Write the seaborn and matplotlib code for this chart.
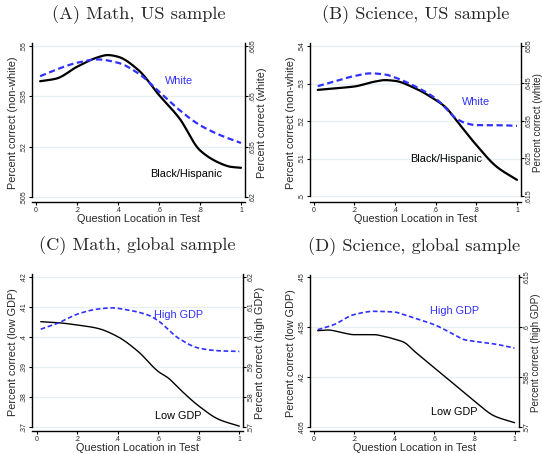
import numpy as np
import pandas as pd
import matplotlib
matplotlib.use("Agg")
import matplotlib.pyplot as plt
import seaborn as sns

# question location in test (x) and smoothed percent correct
x_a_black = [0.02, 0.1, 0.2, 0.3, 0.35, 0.4, 0.5, 0.6, 0.7, 0.8, 0.9, 0.95, 1.0]
y_a_black = [.5395, .5403, .5438, .5466, .5473, .5468, .5428, .5354, .5284, .5189, .5150, .5140, .5137]
x_a_white = [0.02, 0.1, 0.2, 0.3, 0.4, 0.5, 0.6, 0.7, 0.8, 0.9, 1.0]
y_a_white = [.6560, .6580, .6600, .6610, .6600, .6568, .6514, .6459, .6414, .6384, .6361]

x_b_black = [0.02, 0.1, 0.2, 0.3, 0.35, 0.4, 0.5, 0.6, 0.65, 0.7, 0.8, 0.9, 1.0]
y_b_black = [.5283, .5287, .5292, .5305, .5309, .5307, .5287, .5256, .5236, .5203, .5136, .5078, .5043]
x_b_white = [0.02, 0.1, 0.2, 0.28, 0.35, 0.4, 0.5, 0.6, 0.65, 0.7, 0.75, 0.8, 0.9, 1.0]
y_b_white = [.6443, .6455, .6470, .6477, .6474, .6466, .6442, .6410, .6384, .6357, .6344, .6339, .6339, .6337]

x_c_low = [0.02, 0.1, 0.2, 0.3, 0.4, 0.5, 0.6, 0.65, 0.7, 0.8, 0.9, 1.0]
y_c_low = [.4051, .4048, .4040, .4029, .4001, .3952, .3885, .3863, .3830, .3770, .3725, .3703]
x_c_high = [0.02, 0.1, 0.2, 0.3, 0.37, 0.45, 0.55, 0.6, 0.7, 0.8, 0.9, 1.0]
y_c_high = [.6026, .6045, .6076, .6093, .6097, .6090, .6073, .6054, .5996, .5963, .5954, .5952]

x_d_low = [0.02, 0.07, 0.15, 0.2, 0.3, 0.35, 0.4, 0.45, 0.5, 0.6, 0.7, 0.8, 0.9, 1.0]
y_d_low = [.4339, .4341, .4332, .4327, .4327, .4322, .4314, .4304, .4278, .4228, .4178, .4128, .4083, .4063]
x_d_high = [0.02, 0.1, 0.2, 0.3, 0.4, 0.45, 0.5, 0.6, 0.7, 0.75, 0.8, 0.9, 1.0]
y_d_high = [.5992, .6007, .6037, .6047, .6045, .6037, .6027, .6007, .5977, .5962, .5957, .5949, .5937]

x_ticks = [0, .2, .4, .6, .8, 1]
x_tick_labels = ["0", ".2", ".4", ".6", ".8", "1"]

titles = ["(A) Math, US sample", "(B) Science, US sample",
          "(C) Math, global sample", "(D) Science, global sample"]

BLUE = "#3030ff"
GRID = "#e6eff1"
LABEL_FS = 7.8

sns.set_theme(style="white")
plt.rcParams['font.family'] = ['Liberation Sans', 'DejaVu Sans']

fig = plt.figure(figsize=(5.42, 4.54), dpi=100)
W, H = 542.0, 454.0


def smooth(xs, ys, n=200):
    xs = np.asarray(xs); ys = np.asarray(ys)
    xx = np.linspace(xs[0], xs[-1], n)
    d = np.diff(ys) / np.diff(xs)
    m = np.zeros_like(ys)
    m[1:-1] = np.where(d[:-1] * d[1:] > 0, 2 / (1 / d[:-1] + 1 / d[1:]), 0)
    m[0], m[-1] = d[0], d[-1]
    idx = np.clip(np.searchsorted(xs, xx) - 1, 0, len(xs) - 2)
    h = xs[idx + 1] - xs[idx]
    t = (xx - xs[idx]) / h
    yy = ((2*t**3 - 3*t**2 + 1) * ys[idx] + (t**3 - 2*t**2 + t) * h * m[idx]
          + (-2*t**3 + 3*t**2) * ys[idx + 1] + (t**3 - t**2) * h * m[idx + 1])
    return xx, yy


def panel(box, x0px, x1px, ltop, lbot, ltickpx, lticks, lticklabels, rticks, rticklabels,
          xb, yb, xw, yw, lw_black, lw_blue, lab_l, lab_r, name_b, name_w,
          pos_b, pos_w, title, rlab_fs=LABEL_FS):
    left, top, right, bottom = box
    ax = fig.add_axes([left / W, 1 - bottom / H, (right - left) / W, (bottom - top) / H])
    sx = x1px - x0px
    ax.set_xlim(-(x0px - left) / sx, 1 + (right - x1px) / sx)
    tp, bp = ltickpx
    sy = (bp - tp) / (ltop - lbot)
    ylim = (lbot - (bottom - bp) / sy, ltop + (tp - top) / sy)
    ax.set_ylim(*ylim)
    ax2 = ax.twinx()
    off = rticks[0] - lticks[0]
    ax2.set_ylim(ylim[0] + off, ylim[1] + off)

    for t in lticks:
        ax.axhline(t, color=GRID, lw=0.9, zorder=0)

    bx, by = smooth(xb, yb)
    wx, wy = smooth(xw, yw)
    sns.lineplot(x=bx, y=by, ax=ax, color="black", lw=lw_black, zorder=3)
    sns.lineplot(x=wx, y=wy, ax=ax2, color=BLUE, lw=lw_blue, dashes=False,
                 linestyle=(0, (2.8, 1.6)), zorder=3)

    ax.text(pos_b[0], pos_b[1], name_b, color="black", fontsize=LABEL_FS, ha="center", va="center")
    ax.text(pos_w[0], pos_w[1], name_w, color=BLUE, fontsize=LABEL_FS, ha="center", va="center")

    for a in (ax, ax2):
        for s in a.spines.values():
            s.set_visible(False)
    ax.spines["left"].set_visible(True)
    ax.spines["bottom"].set_visible(True)
    ax2.spines["right"].set_visible(True)
    for s in (ax.spines["left"], ax.spines["bottom"], ax2.spines["right"]):
        s.set_color("black"); s.set_linewidth(1.0)
    ax.spines["left"].set_bounds(lbot, ylim[1])
    ax2.spines["right"].set_bounds(lbot + off, ylim[1] + off)

    ax.set_xticks(x_ticks)
    ax.set_xticklabels(x_tick_labels, fontsize=5)
    ax.set_yticks(lticks)
    ax.set_yticklabels(lticklabels, fontsize=5, rotation=90, va="center")
    ax2.set_yticks(rticks)
    ax2.set_yticklabels(rticklabels, fontsize=5, rotation=90, va="center")
    for a in (ax, ax2):
        a.tick_params(length=2.5, width=0.8, color="black", pad=1.2, direction="out")
        a.tick_params(axis="x", bottom=True)
        a.grid(False)
    ax.tick_params(axis="y", left=True)
    ax2.tick_params(axis="y", right=True, pad=0.8)

    ax.set_xlabel("Question Location in Test", fontsize=LABEL_FS, labelpad=0)
    ax.set_ylabel(lab_l, fontsize=LABEL_FS, labelpad=1.5)
    ax2.set_ylabel(lab_r, fontsize=rlab_fs, labelpad=0.2, rotation=90)

    cx = (left + right) / 2 / W
    fig.text(cx, 1 - (top - 28) / H, title, ha="center", va="center",
             fontsize=13.2, family=["cmr10", "DejaVu Serif"])
    return ax


panel((32, 43, 245, 202), 36, 241, .55, .505, (46, 197),
      [.505, .52, .535, .55], [".505", ".52", ".535", ".55"],
      [.62, .635, .65, .665], [".62", ".635", ".65", ".665"],
      x_a_black, y_a_black, x_a_white, y_a_white, 1.6, 1.6,
      "Percent correct (non-white)", "Percent correct (white)",
      "Black/Hispanic", "White", (0.73, .5118), (0.70, .5396), titles[0])

panel((310, 43, 521, 202), 313.7, 517, .54, .50, (46, 196),
      [.50, .51, .52, .53, .54], [".5", ".51", ".52", ".53", ".54"],
      [.615, .625, .635, .645, .655], [".615", ".625", ".635", ".645", ".655"],
      x_b_black, y_b_black, x_b_white, y_b_white, 1.6, 1.6,
      "Percent correct (non-white)", "Percent correct (white)",
      "Black/Hispanic", "White", (0.65, .5098), (0.80, .5252), titles[1], 7.1)

panel((32, 274, 243, 431), 36.7, 239.3, .42, .37, (277, 427),
      [.37, .38, .39, .40, .41, .42], [".37", ".38", ".39", ".4", ".41", ".42"],
      [.57, .58, .59, .60, .61, .62], [".57", ".58", ".59", ".6", ".61", ".62"],
      x_c_low, y_c_low, x_c_high, y_c_high, 1.0, 1.2,
      "Percent correct (low GDP)", "Percent correct (high GDP)",
      "Low GDP", "High GDP", (0.70, .3736), (0.70, .4073), titles[2])

panel((310, 275, 519, 431), 313.7, 514.5, .45, .405, (277, 427),
      [.405, .42, .435, .45], [".405", ".42", ".435", ".45"],
      [.57, .585, .60, .615], [".57", ".585", ".6", ".615"],
      x_d_low, y_d_low, x_d_high, y_d_high, 1.0, 1.2,
      "Percent correct (low GDP)", "Percent correct (high GDP)",
      "Low GDP", "High GDP", (0.70, .4096), (0.70, .4397), titles[3], 7.1)

fig.savefig("out.png", dpi=100)
